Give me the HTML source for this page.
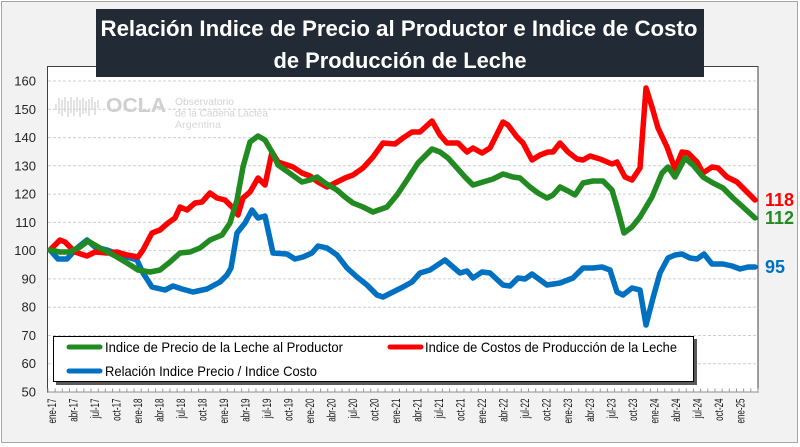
<!DOCTYPE html>
<html><head><meta charset="utf-8"><style>
html,body{margin:0;padding:0;background:#fff;}
svg{display:block;}
text{font-family:"Liberation Sans",sans-serif;}
</style></head><body>
<svg width="800" height="447" viewBox="0 0 800 447" xmlns="http://www.w3.org/2000/svg">
<rect x="0" y="0" width="800" height="447" fill="#ffffff"/>
<rect x="1.5" y="1.5" width="796" height="441" fill="#f2f2f2" stroke="#a6a6a6" stroke-width="1"/>
<!-- plot area -->
<rect x="47.5" y="66.5" width="710.5" height="325.5" fill="#ffffff" stroke="#404040" stroke-width="1"/>
<!-- gridlines -->
<g stroke="#cfcfcf" stroke-width="1" stroke-dasharray="3,2">
<line x1="48" x2="757" y1="81" y2="81"/>
<line x1="48" x2="757" y1="109.3" y2="109.3"/>
<line x1="48" x2="757" y1="137.6" y2="137.6"/>
<line x1="48" x2="757" y1="165.8" y2="165.8"/>
<line x1="48" x2="757" y1="194.1" y2="194.1"/>
<line x1="48" x2="757" y1="222.4" y2="222.4"/>
<line x1="48" x2="757" y1="250.6" y2="250.6"/>
<line x1="48" x2="757" y1="278.9" y2="278.9"/>
<line x1="48" x2="757" y1="307.2" y2="307.2"/>
<line x1="48" x2="757" y1="335.5" y2="335.5"/>
<line x1="48" x2="757" y1="363.7" y2="363.7"/>
</g>
<!-- x axis -->
<line x1="48" x2="758" y1="392" y2="392" stroke="#8c8c8c" stroke-width="1"/>
<g id="ticks" stroke="#9a9a9a" stroke-width="1"></g>
<!-- logo -->
<g fill="none" stroke="#d4d4d4" stroke-width="1.3">
<path d="M56 104 V110 M59 98 V114 M62 100 V116 M65 97 V112 M68 101 V117 M71 97 V113 M74 100 V116 M77 97 V112 M80 100 V117 M83 98 V114 M86 101 V113 M89 99 V116 M92 97 V110 M95 102 V115 M98 100 V108"/>
</g>
<text x="106" y="112" font-size="20" font-weight="bold" fill="#cfcfcf" textLength="60" lengthAdjust="spacingAndGlyphs">OCLA</text>
<text x="175" y="105" font-size="10.5" fill="#d2d2d2" textLength="59" lengthAdjust="spacingAndGlyphs">Observatorio</text>
<text x="175" y="116.5" font-size="10.5" fill="#d2d2d2" textLength="93" lengthAdjust="spacingAndGlyphs">de la Cadena Láctea</text>
<text x="175" y="128" font-size="10.5" fill="#d8d8d8" textLength="46" lengthAdjust="spacingAndGlyphs">Argentina</text>
<!-- title -->
<rect x="96" y="9" width="608" height="68" fill="#222a35"/>
<text x="399" y="36" font-size="22" font-weight="bold" fill="#ffffff" text-anchor="middle" textLength="597" lengthAdjust="spacingAndGlyphs">Relación Indice de Precio al Productor e Indice de Costo</text>
<text x="400" y="68" font-size="22" font-weight="bold" fill="#ffffff" text-anchor="middle" textLength="253" lengthAdjust="spacingAndGlyphs">de Producción de Leche</text>
<!-- y labels -->
<g font-size="13" fill="#262626" text-anchor="end">
<text x="36" y="85.5">160</text>
<text x="36" y="113.8">150</text>
<text x="36" y="142.1">140</text>
<text x="36" y="170.3">130</text>
<text x="36" y="198.6">120</text>
<text x="36" y="226.9">110</text>
<text x="36" y="255.1">100</text>
<text x="36" y="283.4">90</text>
<text x="36" y="311.7">80</text>
<text x="36" y="340">70</text>
<text x="36" y="368.2">60</text>
<text x="36" y="396.5">50</text>
</g>
<g id="xl" font-size="12" fill="#1a1a1a" text-anchor="end"></g>
<!-- series -->
<g fill="none" stroke-width="5.5" stroke-linejoin="round" stroke-linecap="round">
<polyline stroke="#0070c0" points="50,250 58,259 67,259 77,248 87,240 95,247 107,250 120,255 137,260 143,273 152,287 165,290 173,286 182,289 193,292 207,289 220,282 227,275 231,268 237,233 245,223 252,210 258,218 265,216 273,253 287,254 295,259 303,257 312,253 318,246 327,248 337,255 347,268 357,277 367,285 377,295 383,297 393,292 403,287 412,282 420,273 430,270 445,260 453,267 460,273 467,271 473,278 482,272 490,273 503,285 510,286 518,278 525,279 532,274 547,285 560,283 573,278 583,268 593,268 602,267 610,270 617,292 623,295 632,288 640,290 646,325 653,298 660,273 668,258 675,255 682,254 690,258 697,259 704,254 712,264 723,264 732,266 740,269 748,267 755,267"/>
<polyline stroke="#ff0000" points="50,250 60,240 65,242 75,252 87,256 95,252 107,253 117,252 127,255 138,257 143,250 152,233 160,230 168,223 175,218 180,207 187,210 195,203 202,202 210,193 217,198 225,200 232,207 238,215 243,198 250,192 258,178 265,185 272,152 278,162 287,165 293,167 302,173 310,176 318,182 327,187 335,183 345,178 353,175 363,168 373,157 383,143 395,144 403,138 412,132 420,132 432,121 440,135 447,143 458,143 467,152 473,148 482,153 490,148 503,122 508,125 517,137 523,143 532,160 540,155 548,152 553,152 560,143 568,152 577,159 583,160 590,156 600,159 612,164 617,162 625,177 632,180 640,168 646,88 652,107 658,128 667,147 675,169 682,152 688,153 697,162 703,173 712,167 718,168 727,177 737,182 745,190 755,200"/>
<polyline stroke="#218a21" points="50,250 60,252 70,252 80,247 88,241 100,248 117,257 127,263 138,270 150,272 160,270 170,262 180,253 190,252 200,248 210,240 222,235 230,223 237,200 243,167 250,142 258,136 265,140 272,152 278,165 288,172 302,182 310,180 317,177 325,183 337,190 345,197 353,203 363,207 373,212 387,207 397,195 407,180 418,163 432,149 440,152 448,158 457,168 465,177 473,185 483,182 493,179 503,174 513,177 520,178 530,187 538,193 547,198 553,195 560,187 568,191 575,195 583,183 593,181 603,181 612,190 617,207 624,233 632,227 640,217 652,197 662,173 668,167 675,177 685,158 693,165 703,177 713,183 723,188 733,198 743,207 755,218"/>
</g>
<!-- end labels -->
<g font-size="18" font-weight="bold">
<text x="765" y="206" fill="#ff0000">118</text>
<text x="765" y="224" fill="#218a21">112</text>
<text x="765" y="273" fill="#0070c0">95</text>
</g>
<!-- legend -->
<rect x="56" y="339" width="641" height="46" fill="#595959"/>
<rect x="53.5" y="336.5" width="640" height="45" fill="#ffffff" stroke="#000" stroke-width="1"/>
<g stroke-width="5" stroke-linecap="round">
<line x1="69" x2="100" y1="347" y2="347" stroke="#218a21"/>
<line x1="390" x2="421" y1="347" y2="347" stroke="#ff0000"/>
<line x1="69" x2="100" y1="371" y2="371" stroke="#0070c0"/>
</g>
<g font-size="14" fill="#000">
<text x="105" y="352" textLength="238" lengthAdjust="spacingAndGlyphs">Indice de Precio de la Leche al Productor</text>
<text x="425" y="352" textLength="252" lengthAdjust="spacingAndGlyphs">Indice de Costos de Producción de la Leche</text>
<text x="105" y="376" textLength="212" lengthAdjust="spacingAndGlyphs">Relación Indice Precio / Indice Costo</text>
</g>
</svg>
<script>
(function(){
var ns="http://www.w3.org/2000/svg";
var t=document.getElementById("ticks");
var w=710/99;
for(var k=0;k<=99;k++){var x=48+w*k;var l=document.createElementNS(ns,"line");l.setAttribute("x1",x);l.setAttribute("x2",x);l.setAttribute("y1",388.5);l.setAttribute("y2",392);t.appendChild(l);}
var m=["ene","abr","jul","oct"];var g=document.getElementById("xl");
for(var i=0;i<=96;i+=3){var x=48+w*(i+0.5)+4.3;var yr=17+Math.floor(i/12);var lab=m[(i%12)/3]+"-"+yr;
var tx=document.createElementNS(ns,"text");tx.setAttribute("transform","translate("+x.toFixed(1)+",398.5) rotate(-90) scale(0.67,1)");tx.textContent=lab;g.appendChild(tx);}
})();
</script>
</body></html>
